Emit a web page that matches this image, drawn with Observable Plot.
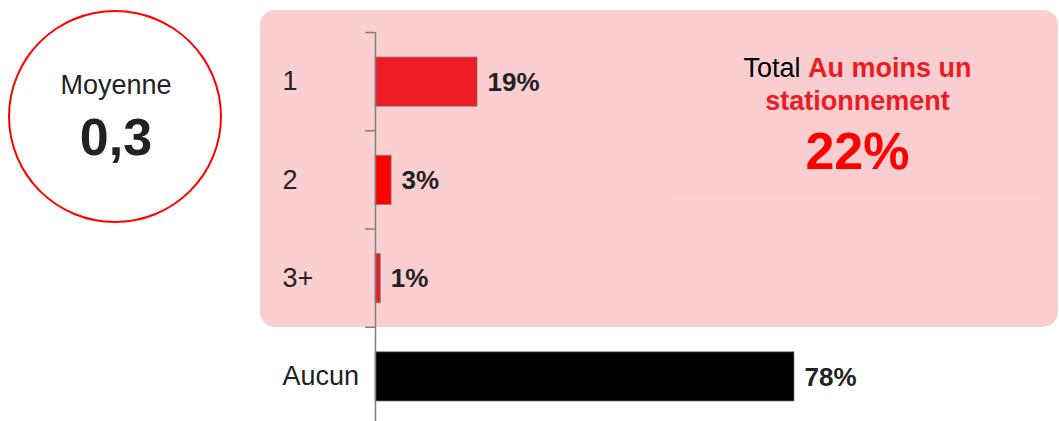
<!DOCTYPE html>
<html>
<head>
<meta charset="utf-8">
<script src="https://cdn.jsdelivr.net/npm/d3@7"></script>
<script src="https://cdn.jsdelivr.net/npm/@observablehq/plot@0.6"></script>
<style>
  html, body { margin: 0; padding: 0; background: #fff; }
  body { width: 1059px; height: 421px; position: relative; overflow: hidden;
         font-family: "Liberation Sans", Arial, sans-serif; }
  #panel { position: absolute; left: 260px; top: 10px; width: 798px; height: 317px;
           background: #FBCFD1; border-radius: 15px; }
  #inner { position: absolute; left: 670px; top: 42px; width: 377px; height: 153px;
           background: #FACDD0; }
  #circle { position: absolute; left: 8px; top: 10px; width: 214px; height: 213px;
            border: 2px solid #FF0000; border-radius: 50%; box-sizing: border-box; }
  .abs { position: absolute; white-space: nowrap; text-align: center; }
  #moy { left: 16px; width: 200px; top: 70px; font-size: 27px; color: #222; }
  #avg { left: 16px; width: 200px; top: 107px; font-size: 52px; font-weight: bold; color: #222; }
  #tot1 { left: 700px; width: 315px; top: 52px; font-size: 27px; line-height: 33px; color: #000; }
  #tot1 b { color: #EC1C24; }
  #tot2 { left: 700px; width: 315px; top: 121px; font-size: 52px; font-weight: bold; color: #FF0000; }
  #chart { position: absolute; left: 0; top: 0; }
</style>
</head>
<body>
<div id="panel"></div>
<div id="inner"></div>
<div id="circle"></div>
<div class="abs" id="moy"></div>
<div class="abs" id="avg"></div>
<div class="abs" id="tot1"></div>
<div class="abs" id="tot2"></div>
<div id="chart"></div>
<script>
// ---- data ----
const categories = ["1", "2", "3+", "Aucun"];
const values = [19, 3, 1, 78];
const valueLabels = ["19%", "3%", "1%", "78%"];
const barColors = ["#EC1C24", "#FF0000", "#E2202A", "#000000"];
const averageTitle = "Moyenne";
const averageValue = "0,3";
const totalPrefix = "Total ";
const totalNameLine1 = "Au moins un";
const totalNameLine2 = "stationnement";
const totalValue = "22%";

const rows = categories.map((c, i) => ({category: c, value: values[i], label: valueLabels[i]}));

document.getElementById("moy").textContent = averageTitle;
document.getElementById("avg").textContent = averageValue;
const t1 = document.getElementById("tot1");
t1.appendChild(document.createTextNode(totalPrefix));
const b = document.createElement("b");
b.textContent = totalNameLine1;
t1.appendChild(b);
t1.appendChild(document.createElement("br"));
const b2 = document.createElement("b");
b2.textContent = totalNameLine2;
t1.appendChild(b2);
document.getElementById("tot2").textContent = totalValue;

const W = 1059, H = 421;
const mTop = 32, mBottom = -4;
const bw = (H - mTop - mBottom) / categories.length;

const chart = Plot.plot({
  width: W,
  height: H,
  marginLeft: 375,
  marginRight: 265,
  marginTop: mTop,
  marginBottom: mBottom,
  style: {background: "transparent", overflow: "visible", fontFamily: "Liberation Sans, Arial, sans-serif"},
  x: {domain: [0, d3.max(values)], axis: null},
  y: {domain: categories, padding: 0, round: false, axis: null},
  color: {domain: categories, range: barColors},
  marks: [
    Plot.barX(rows, {
      x: "value", y: "category", fill: "category",
      insetTop: 25, insetBottom: 24,
      stroke: "#7f7f7f", strokeWidth: 1, strokeOpacity: 0.7
    }),
    Plot.ruleX([0], {stroke: "#808080", strokeWidth: 1.5}),
    Plot.ruleY(categories, {y: d => d, x1: 0, x2: 0, insetLeft: -10, dy: -bw / 2, stroke: "#808080", strokeWidth: 1.5}),
    Plot.text(rows, {
      x: 0, y: "category", text: "category", textAnchor: "start", dx: -93,
      fontSize: 27, fill: "#222"
    }),
    Plot.text(rows, {
      x: "value", y: "category", text: "label", textAnchor: "start", dx: 10, dy: 1,
      fontSize: 26, fontWeight: "bold", fill: "#222"
    })
  ]
});
document.getElementById("chart").appendChild(chart);
</script>
</body>
</html>
